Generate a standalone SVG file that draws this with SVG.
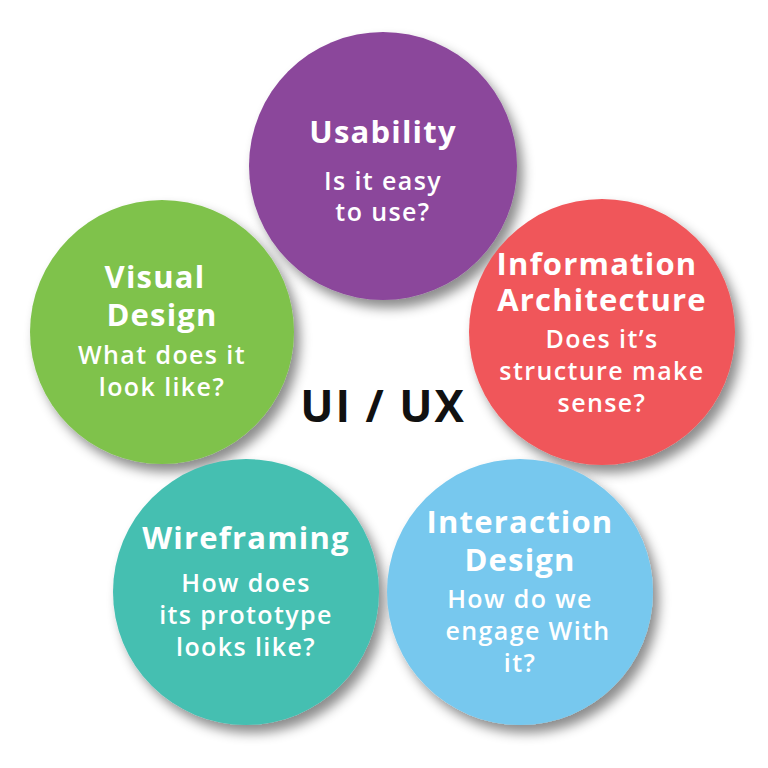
<svg xmlns="http://www.w3.org/2000/svg" width="768" height="768" viewBox="0 0 768 768">
<defs>
<filter id="sh" x="-20%" y="-20%" width="150%" height="150%">
<feDropShadow dx="6" dy="8" stdDeviation="6" flood-color="#000" flood-opacity="0.45"/>
</filter>
<style>
.t{font-family:"Open Sans","Liberation Sans",sans-serif;font-weight:700;font-size:31px;letter-spacing:1.2px;fill:#fff;text-anchor:middle}
.s{font-family:"Open Sans","Liberation Sans",sans-serif;font-weight:600;font-size:25px;letter-spacing:1.4px;fill:#fff;text-anchor:middle}
.c{filter:url(#sh)}
</style>
</defs>
<rect width="768" height="768" fill="#fff"/>
<g id="usability"><circle class="c" cx="383" cy="166" r="134" fill="#8B479B"/>
<text class="t" x="383" y="143">Usability</text>
<text class="s" x="383" y="190">Is it easy</text><text class="s" x="383" y="221">to use?</text></g>
<g id="visual"><circle class="c" cx="162" cy="332" r="132" fill="#7FC24C"/>
<text class="t" x="155" y="288">Visual</text><text class="t" x="162" y="326">Design</text>
<text class="s" x="162" y="364">What does it</text><text class="s" x="162" y="396">look like?</text></g>
<g id="info"><circle class="c" cx="602" cy="332" r="133" fill="#F0575A"/>
<text class="t" x="597" y="275">Information</text><text class="t" x="602" y="311">Architecture</text>
<text class="s" x="602" y="348">Does it’s</text><text class="s" x="602" y="380">structure make</text><text class="s" x="602" y="412">sense?</text></g>
<g id="wire"><circle class="c" cx="246" cy="592" r="133" fill="#45BFB1"/>
<text class="t" x="246" y="549">Wireframing</text>
<text class="s" x="246" y="592">How does</text><text class="s" x="246" y="624">its prototype</text><text class="s" x="246" y="656">looks like?</text></g>
<g id="interaction"><circle class="c" cx="520" cy="592" r="133" fill="#77C8EE"/>
<text class="t" x="520" y="533">Interaction</text><text class="t" x="520" y="571">Design</text>
<text class="s" x="520" y="608">How do we</text><text class="s" x="528" y="640">engage With</text><text class="s" x="520" y="672">it?</text></g>
<text id="center" x="383" y="422" style="font-family:'Open Sans','Liberation Sans',sans-serif;font-weight:700;font-size:44px;letter-spacing:2px;fill:#111;text-anchor:middle">UI / UX</text>
<g id="connectors"/>
</svg>
